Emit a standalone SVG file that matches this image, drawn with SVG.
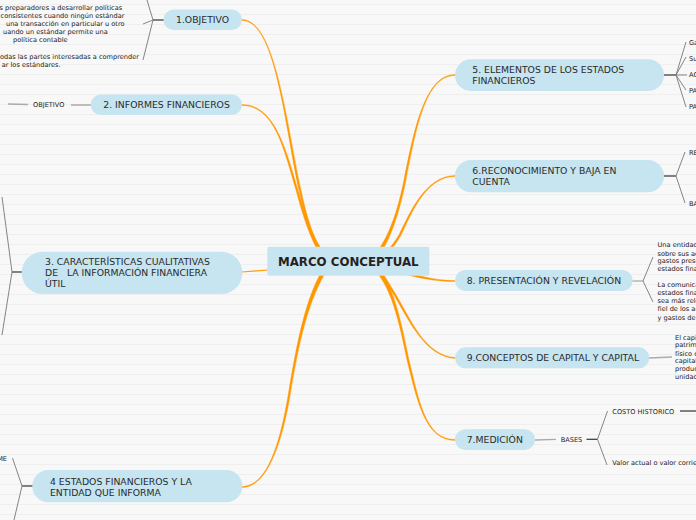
<svg xmlns="http://www.w3.org/2000/svg" width="696" height="520" viewBox="0 0 696 520">
<defs>
<pattern id="bg" width="696" height="10" patternUnits="userSpaceOnUse">
<rect width="696" height="10" fill="#f8f8f8"/>
<line x1="0" y1="4.5" x2="696" y2="4.5" stroke="#efefef" stroke-width="1"/>
</pattern>
</defs>
<style>
.node{fill:#c6e5f0}
.t{font-family:"DejaVu Sans",Verdana,sans-serif;font-size:9.3px;fill:#2b2b2b;white-space:pre}
.c{font-family:"DejaVu Sans",Verdana,sans-serif;font-size:11.8px;font-weight:bold;fill:#2a1f1f}
.s{font-family:"DejaVu Sans",Verdana,sans-serif;font-size:6.6px;fill:#222}
.br{fill:#ff9800;stroke:#ff9d10;stroke-width:0.4;stroke-linejoin:round}
.o{fill:none;stroke:#ff9a00;stroke-width:1.1;stroke-linecap:round}
.dk{fill:none;stroke:#333;stroke-width:1.2}
.gr{fill:none;stroke:#777;stroke-width:0.9}
.lg{fill:none;stroke:#aaa;stroke-width:1.3}
</style>
<rect width="696" height="520" fill="url(#bg)"/>
<g id="connectors">
<path class="br" d="M242,20.5 C275,20.5 284.02,120.21 299.02,190.21 C309.02,237.21 316.59,251.41 328.59,263.41 L331.41,260.59 C319.41,248.59 310.98,236.79 300.98,189.79 C285.98,119.79 275,19.5 242,19.5 Z"/>
<path class="br" d="M242,105.5 C275,105.5 284.04,150.28 296.04,190.28 C304.04,220.28 313.75,251.56 328.75,263.56 L331.25,260.44 C316.25,248.44 305.96,219.72 297.96,189.72 C285.96,149.72 275,104.5 242,104.5 Z"/>
<path class="o" d="M242,272 L268,270"/>
<path class="br" d="M242,487.5 C268,487.5 282.99,440.16 290.99,390.16 C300.99,330.16 311.63,291.16 331.63,263.16 L328.37,260.84 C308.37,288.84 299.01,329.84 289.01,389.84 C281.01,439.84 268,486.5 242,486.5 Z"/>
<path class="br" d="M455,74.5 C425,74.5 414.02,129.8 404.02,179.8 C396.02,219.8 383.75,248.44 368.75,260.44 L371.25,263.56 C386.25,251.56 397.98,220.2 405.98,180.2 C415.98,130.2 425,75.5 455,75.5 Z"/>
<path class="br" d="M455,175.5 C425,175.5 409.12,214.52 399.12,234.52 C389.12,251.52 379.61,258.04 369.61,260.04 L370.39,263.96 C380.39,261.96 390.88,252.48 400.88,235.48 C410.88,215.48 425,176.5 455,176.5 Z"/>
<path class="br" d="M455,280.5 C430,280.5 410.46,273.57 370.46,260.57 L369.54,263.43 C409.54,276.43 430,281.5 455,281.5 Z"/>
<path class="br" d="M455.03,357.5 C425.03,355.5 410.86,319.49 395.86,294.49 C385.86,277.49 379.2,266.4 371.2,260.4 L368.8,263.6 C376.8,269.6 384.14,278.51 394.14,295.51 C409.14,320.51 424.97,356.5 454.97,358.5 Z"/>
<path class="br" d="M455,439.5 C425,439.5 418.98,399.78 408.98,359.78 C398.98,309.78 391.34,278.51 371.34,260.51 L368.66,263.49 C388.66,281.49 397.02,310.22 407.02,360.22 C417.02,400.22 425,440.5 455,440.5 Z"/>
<path class="dk" d="M164,20 L153,20"/>
<path class="gr" d="M153,20 L147,0 M153,20 L143,24 M153,20 L143,60"/>
<path class="lg" d="M91,105 L71,105 M28,104.5 L8,104"/>
<path class="dk" d="M22,272 L12,272"/>
<path class="gr" d="M12,272 L2,197 M12,272 L2,335"/>
<path class="dk" d="M33,486 L22,486"/>
<path class="gr" d="M22,486 L12.5,458 M22,486 L14,520"/>
<path class="dk" d="M664,75 L676,75"/>
<path class="gr" d="M676,75 L686,42 M676,75 L686,57 M676,75 L687,75 M676,75 L686,90 M676,75 L686,107"/>
<path class="dk" d="M664,176 L676,176"/>
<path class="gr" d="M676,176 L685,152 M676,176 L685,203"/>
<path class="lg" d="M632,281 L643,281"/>
<path class="gr" d="M643,281 L653,257 M643,281 L653,302"/>
<path class="lg" d="M649,358 L672,357"/>
<path class="lg" d="M535,440 L556,439.3"/>
<path class="dk" d="M586.5,439.3 L597.5,439.3"/>
<path class="gr" d="M597.5,439.3 L607.5,411 M597.5,439.3 L607,465"/>
<path class="dk" d="M680,411 L696,411"/>
</g>
<g id="center">
<rect x="267.3" y="246.7" width="162" height="29" rx="2" class="node"/>
<text x="348.3" y="266" text-anchor="middle" class="c">MARCO CONCEPTUAL</text>
</g>
<g id="n1">
<rect x="163.5" y="9.5" width="78.5" height="20.5" rx="10.25" class="node"/>
<text x="176" y="23.3" class="t">1.OBJETIVO</text>
</g>
<g id="n1c">
<text class="s" x="-0.5" y="9.6">s preparadores a desarrollar políticas</text>
<text class="s" x="0.5" y="17.8">consistentes cuando ningún estándar</text>
<text class="s" x="6" y="26">una transacción en particular u otro</text>
<text class="s" x="3" y="34.2">uando un estándar permite una</text>
<text class="s" x="13" y="42.2">política contable</text>
<text class="s" x="0" y="58.6">odas las partes interesadas a comprender</text>
<text class="s" x="1.7" y="66.8">ar los estándares.</text>
</g>
<g id="n2">
<rect x="90.7" y="94.5" width="151.3" height="20.5" rx="10.25" class="node"/>
<text x="103.3" y="108.3" class="t">2. INFORMES FINANCIEROS</text>
</g>
<g id="n2c">
<text class="s" x="33" y="107.4">OBJETIVO</text>
</g>
<g id="n3">
<rect x="21.7" y="251.7" width="220.6" height="42.3" rx="21" class="node"/>
<text x="45" y="265.2" class="t">3. CARACTERÍSTICAS CUALITATIVAS</text>
<text x="45" y="276.2" class="t">DE   LA INFORMACIÓN FINANCIERA</text>
<text x="45" y="287.2" class="t">ÚTIL</text>
</g>
<g id="n4">
<rect x="32.3" y="470" width="210" height="32.3" rx="16" class="node"/>
<text x="50" y="485" class="t">4 ESTADOS FINANCIEROS Y LA</text>
<text x="50" y="495.8" class="t">ENTIDAD QUE INFORMA</text>
</g>
<g id="n4c">
<text class="s" x="7" y="460.6" text-anchor="end">ME</text>
</g>
<g id="n5">
<rect x="455" y="59.3" width="209" height="31.7" rx="15.8" class="node"/>
<text x="472.3" y="73.3" class="t">5. ELEMENTOS DE LOS ESTADOS</text>
<text x="472.3" y="84.3" class="t">FINANCIEROS</text>
</g>
<g id="n5c">
<text class="s" x="689" y="45">Ga</text>
<text class="s" x="689" y="60.6">Su</text>
<text class="s" x="689" y="77.3">AC</text>
<text class="s" x="689" y="93.3">PA</text>
<text class="s" x="689" y="109.3">PA</text>
</g>
<g id="n6">
<rect x="455" y="160" width="209" height="32.3" rx="16" class="node"/>
<text x="472.3" y="174.3" class="t">6.RECONOCIMIENTO Y BAJA EN</text>
<text x="472.3" y="185" class="t">CUENTA</text>
</g>
<g id="n6c">
<text class="s" x="689" y="155">RE</text>
<text class="s" x="689" y="206.3">BA</text>
</g>
<g id="n8">
<rect x="455" y="270" width="177.7" height="21" rx="10.5" class="node"/>
<text x="466.7" y="284" class="t">8. PRESENTACIÓN Y REVELACIÓN</text>
</g>
<g id="n8c">
<text class="s" x="657.5" y="247.3">Una entidad</text>
<text class="s" x="657.5" y="255.6">sobre sus ac</text>
<text class="s" x="657.5" y="263">gastos prese</text>
<text class="s" x="657.5" y="270.6">estados fina</text>
<text class="s" x="657.5" y="287.3">La comunica</text>
<text class="s" x="657.5" y="295">estados fina</text>
<text class="s" x="657.5" y="303">sea más rele</text>
<text class="s" x="657.5" y="311.3">fiel de los ac</text>
<text class="s" x="657.5" y="319.6">y gastos de</text>
</g>
<g id="n9">
<rect x="455" y="347.3" width="194.3" height="21" rx="10.5" class="node"/>
<text x="466.7" y="361" class="t">9.CONCEPTOS DE CAPITAL Y CAPITAL</text>
</g>
<g id="n9c">
<text class="s" x="675" y="339.6">El capi</text>
<text class="s" x="675" y="347.3">patrim</text>
<text class="s" x="675" y="355.6">físico c</text>
<text class="s" x="675" y="363.3">capital</text>
<text class="s" x="675" y="371.3">produc</text>
<text class="s" x="675" y="379">unidad</text>
</g>
<g id="n7">
<rect x="455" y="429.3" width="80" height="20.7" rx="10.3" class="node"/>
<text x="466.7" y="443.3" class="t">7.MEDICIÓN</text>
</g>
<g id="n7c">
<text class="s" x="560.7" y="441.6">BASES</text>
<text class="s" x="612.3" y="413.6">COSTO HISTORICO</text>
<text class="s" x="612.3" y="465">Valor actual o valor corrie</text>
</g>
</svg>
